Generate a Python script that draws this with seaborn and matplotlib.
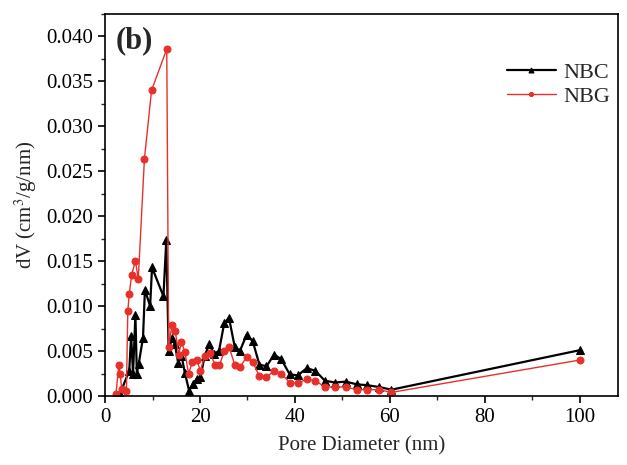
import matplotlib
matplotlib.use("Agg")
import matplotlib.pyplot as plt
import seaborn as sns
import pandas as pd
from matplotlib.ticker import MultipleLocator

# NBC (black, triangles)
nbc_x = [3.1, 5.1, 5.5, 5.9, 6.4, 6.7, 7.1, 8.0, 8.4, 9.5, 9.9, 12.3, 12.9,
         13.4, 14.1, 14.7, 15.4, 16.1, 16.8, 17.7, 18.5, 19.3, 20.1, 21.0,
         22.0, 22.9, 24.0, 25.1, 26.1, 27.3, 28.4, 29.8, 31.1, 32.5, 34.0,
         35.6, 37.1, 38.9, 40.6, 42.5, 44.3, 46.3, 48.4, 50.7, 53.0, 55.2,
         57.7, 60.3, 100.0]
nbc_y = [0.0002, 0.0028, 0.0067, 0.0025, 0.0090, 0.0025, 0.0036, 0.0065,
         0.0118, 0.0100, 0.0143, 0.0111, 0.0173,
         0.0050, 0.0064, 0.0058, 0.0037, 0.0045, 0.0026, 0.0006, 0.0013,
         0.0019, 0.0021, 0.0045, 0.0058, 0.0047, 0.0050, 0.0081, 0.0087,
         0.0055, 0.0050, 0.0068, 0.0061, 0.0035, 0.0033, 0.0046, 0.0041,
         0.0024, 0.0023, 0.0031, 0.0028, 0.0017, 0.0015, 0.0016, 0.0013,
         0.0012, 0.0010, 0.0007, 0.0051]

# NBG (red, circles)
nbg_x = [2.3, 2.9, 3.2, 3.5, 4.5, 4.8, 5.1, 5.6, 6.4, 7.0, 8.3, 9.8, 13.0,
         13.4, 14.1, 14.8, 15.5, 16.1, 16.8, 17.6, 18.4, 19.3, 20.1, 21.0,
         22.1, 23.2, 24.1, 25.1, 26.1, 27.3, 28.4, 29.8, 31.1, 32.5, 34.0,
         35.6, 37.1, 38.9, 40.6, 42.5, 44.3, 46.3, 48.4, 50.7, 53.0, 55.2,
         57.7, 60.3, 100.0]
nbg_y = [0.0002, 0.0034, 0.0025, 0.0008, 0.0005, 0.0095, 0.0113, 0.0135,
         0.0150, 0.0130, 0.0264, 0.0340, 0.0386,
         0.0055, 0.0079, 0.0072, 0.0046, 0.0060, 0.0049, 0.0025, 0.0038,
         0.0040, 0.0028, 0.0045, 0.0048, 0.0034, 0.0034, 0.0050, 0.0055,
         0.0035, 0.0032, 0.0043, 0.0038, 0.0022, 0.0021, 0.0028, 0.0025,
         0.0015, 0.0014, 0.0019, 0.0017, 0.0010, 0.0010, 0.0010, 0.0007,
         0.0007, 0.0007, 0.0004, 0.0040]

sns.set_style("ticks")
plt.rcParams['font.family'] = ['Liberation Serif', 'DejaVu Serif']
plt.rcParams['mathtext.fontset'] = 'stix'

fig = plt.figure(figsize=(6.27, 4.65), dpi=100)
ax = fig.add_axes([0.1675, 0.1484, 0.818, 0.8216])

sns.lineplot(x=nbc_x, y=nbc_y, ax=ax, color='black', marker='^',
             markersize=6, markeredgecolor='black', linewidth=1.6,
             sort=False, label='NBC')
sns.lineplot(x=nbg_x, y=nbg_y, ax=ax, color='#e8302a', marker='o',
             markersize=5, markeredgecolor='#e8302a', linewidth=1.0,
             sort=False, label='NBG')

ax.set_xlim(0, 108)
ax.set_ylim(0, 0.0425)
ax.xaxis.set_major_locator(MultipleLocator(20))
ax.xaxis.set_minor_locator(MultipleLocator(10))
ax.yaxis.set_major_locator(MultipleLocator(0.005))
ax.yaxis.set_minor_locator(MultipleLocator(0.0025))
ax.yaxis.set_major_formatter(matplotlib.ticker.FormatStrFormatter('%.3f'))
ax.tick_params(which='major', direction='out', length=5, width=1.2,
               labelsize=15, colors='black')
ax.tick_params(which='minor', direction='out', length=3, width=1.0)
for s in ax.spines.values():
    s.set_linewidth(1.2)
    s.set_color('black')

ax.set_xlabel('Pore Diameter (nm)', fontsize=15, labelpad=7)
ax.set_ylabel('dV (cm$^3$/g/nm)', fontsize=15, labelpad=5)

ax.text(0.02, 0.93, '(b)', transform=ax.transAxes, fontsize=22,
        fontweight='bold', va='center', ha='left')

leg = ax.legend(loc='upper right', bbox_to_anchor=(1.024, 0.925), frameon=False,
                fontsize=16, handlelength=2.2, markerscale=0.6,
                labelspacing=0.15, handletextpad=0.35)

fig.savefig('out.png', dpi=100)
